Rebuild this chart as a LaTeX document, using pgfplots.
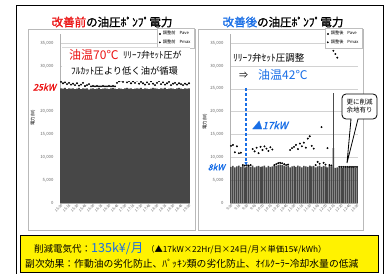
\documentclass[border=0pt]{standalone}
\usepackage{fontspec}
\setmainfont{Noto Sans CJK JP}
\newfontfamily\cjkbold[FakeBold=1.4]{Noto Sans CJK JP}
\newfontfamily\cjkit[FakeSlant=0.25,FakeBold=1.5]{Noto Sans CJK JP}
\usepackage{pgfplots}
\pgfplotsset{compat=1.18}
\usepackage{pgfplotstable}
\usetikzlibrary{arrows.meta}
\definecolor{myred}{RGB}{235,20,20}
\definecolor{myblue}{RGB}{25,110,230}

\pgfplotstableread{
x ave max
0 25100 26500
1 25000 26200
2 25200 26400
3 24900 26000
4 25100 26300
5 25000 25900
6 25100 26100
7 24900 25800
8 25000 26200
9 25200 25700
10 24900 25900
11 25100 26300
12 25000 25600
13 25100 25800
14 24800 26000
15 25000 25500
16 25100 25600
17 24900 25500
18 25000 25600
19 25200 25500
20 24900 25500
21 25000 25600
22 25100 25500
23 25000 25500
24 24900 25600
25 25100 25500
26 25200 25600
27 25000 25500
28 24900 26300
29 25100 26600
30 25000 26800
31 24900 26500
32 25100 26900
33 25200 26400
34 25000 26700
35 25100 26200
36 24900 26600
37 25000 26300
38 25100 26800
39 25000 26100
40 25200 26500
41 24900 26200
42 25100 25900
43 25000 26400
44 24900 26000
45 25000 26600
46 25200 26100
47 25100 25800
48 25000 26300
49 24900 26700
50 25100 26000
51 25000 26400
52 25200 25900
53 24900 26200
54 25000 26500
55 25100 25800
56 25000 26100
57 24900 26300
58 25100 25900
59 25200 26200
60 25000 26000
61 24900 25800
62 25100 26100
63 25000 25900
64 25100 26200
}\leftdata

\pgfplotstableread{
x ave max
0 7900 12500
1 8100 12700
2 7800 11100
3 8000 12400
4 8200 10900
5 7900 11000
6 8100 8300
7 7800 8200
8 8000 8300
9 8100 8200
10 7900 8300
11 8200 11800
12 7800 11300
13 8000 12100
14 8100 10900
15 7900 12300
16 8000 11600
17 8200 12400
18 7800 11900
19 8100 11400
20 7900 12200
21 8000 11700
22 8100 8300
23 8200 8500
24 8300 8700
25 8400 8800
26 8300 8700
27 8200 8500
28 8000 8300
29 8200 8400
30 7800 11600
31 8000 12000
32 8100 12300
33 7900 12700
34 8200 11800
35 8000 13000
36 7800 12400
37 8100 13200
38 8000 12100
39 7900 14100
40 8200 14600
41 8000 12500
42 8100 11900
43 7800 8300
44 8000 9000
45 8200 8600
46 7900 16600
47 8100 8800
48 8000 8400
49 7800 12000
50 8100 8300
51 8000 8200
52 12000 33300
53 7700 32600
54 7800 31800
55 7700 7900
56 7800 7900
57 7700 7900
58 7800 7900
59 7700 7900
60 7800 7900
61 7700 7900
62 7800 7900
63 7700 7900
64 7800 7900
}\rightdata

\pgfplotsset{myax/.style={
  scale only axis, width=130pt, height=169.1pt,
  xmin=-0.5, xmax=64.5, ymin=0, ymax=37000,
  axis x line*=bottom, axis y line*=left,
  axis line style={gray!60, line width=0.4pt},
  ytick={0,5000,10000,15000,20000,25000,30000,35000}, ymajorgrids,
  scaled y ticks=false,
  grid style={gray!35, line width=0.4pt},
  major tick length=0pt,
  xtick={0,4,...,64},
  yticklabel style={font=\fontsize{4.3}{5}\selectfont, text=black!60, xshift=-3pt},
  xticklabel style={font=\fontsize{3.6}{4}\selectfont, text=black!65, rotate=45, anchor=north east, inner sep=0.6pt},
  /pgf/number format/1000 sep={,},
  /pgf/number format/assume math mode=true,
  legend style={at={(1.03,1.035)}, anchor=north east, font=\fontsize{4.2}{5}\selectfont,
    draw=gray!50, line width=0.3pt, inner sep=1.2pt, row sep=-0.5pt, fill=white},
  legend cell align=left,
}}

\begin{document}
\begin{tikzpicture}
\useasboundingbox (0pt,0pt) rectangle (387pt,273pt);
\begin{scope}[x=1pt,y=1pt]
% outer frame
\draw[line width=1.2pt] (16.5,-5) -- (16.5,267.5) -- (383.5,267.5) -- (383.5,-5);
% panels
\draw[gray!55, line width=0.6pt] (28,43) rectangle (195,244);
\draw[gray!55, line width=0.6pt] (198,43) rectangle (363,244);
% titles
\node[font=\cjkbold\fontsize{11.5}{11.5}\selectfont] at (112,251) {\textcolor{myred}{改善前}の油圧ﾎﾟﾝﾌﾟ電力};
\node[font=\cjkbold\fontsize{11.5}{11.5}\selectfont] at (283,251) {\textcolor{myblue}{改善後}の油圧ﾎﾟﾝﾌﾟ電力};
\end{scope}

% left axis
\begin{axis}[myax, at={(60pt,70pt)}, anchor=south west,
  yticklabels={0,{5,000},{10,000},{15,000},{20,000},{},{30,000},{35,000}},
  xticklabels={15:00,15:15,15:30,15:45,16:00,16:15,16:30,16:45,17:00,17:15,17:30,17:45,18:00,18:15,18:30,18:45,19:00}]
\addplot[ybar, bar width=0.76, fill=black!72, draw=none,
  legend image code/.code={\fill[black!72] (0pt,-1.1pt) rectangle (2.2pt,1.1pt);}]
  table[x=x,y=ave]{\leftdata};
\addlegendentry{調整前\hspace{4pt}Pave}
\addplot[only marks, mark=*, mark size=0.75pt, black,
  legend image code/.code={\fill (1.1pt,0pt) circle (0.7pt);}]
  table[x=x,y=max]{\leftdata};
\addlegendentry{調整前\hspace{4pt}Pmax}
\end{axis}

% right axis
\begin{axis}[myax, at={(230pt,70pt)}, anchor=south west, width=128pt,
  xticklabels={9:00,9:15,9:30,9:45,10:00,10:15,10:30,10:45,11:00,11:15,11:30,11:45,12:00,12:15,12:30,12:45,13:00}]
\addplot[ybar, bar width=0.76, fill=black!72, draw=none,
  legend image code/.code={\fill[black!72] (0pt,-1.1pt) rectangle (2.2pt,1.1pt);}]
  table[x=x,y=ave]{\rightdata};
\addlegendentry{調整後\hspace{4pt}Pave}
\addplot[only marks, mark=*, mark size=0.75pt, black,
  legend image code/.code={\fill (1.1pt,0pt) circle (0.7pt);}]
  table[x=x,y=max]{\rightdata};
\addlegendentry{調整後\hspace{4pt}Pmax}
\addplot[black!70, line width=0.8pt, forget plot] coordinates {(52,12000) (52,24000)};
\end{axis}

\begin{scope}[x=1pt,y=1pt]
% y labels
\node[rotate=90, font=\fontsize{4.5}{5}\selectfont] at (33,155) {電力(W)};
\node[rotate=90, font=\fontsize{4.5}{5}\selectfont] at (205,151) {電力(W)};

% left annotation
\fill[white] (62,226) rectangle (190,192);
\draw[gray!30, line width=0.4pt] (62,226) -- (190,226);
\node[anchor=west, font=\fontsize{12}{12}\selectfont, text=myred, inner sep=0pt] at (69,218) {油温70℃};
\node[anchor=west, font=\fontsize{9}{9}\selectfont, inner sep=0pt] at (123,218) {ﾘﾘｰﾌ弁ｾｯﾄ圧が};
\node[anchor=west, font=\fontsize{9.3}{9}\selectfont, inner sep=0pt] at (71,202) {ﾌﾙｶｯﾄ圧より低く油が循環};
\node[anchor=east, font=\cjkit\fontsize{9}{9}\selectfont, text=myred, inner sep=0pt] at (56,186) {25kW};

% right annotation
\node[anchor=west, font=\fontsize{9.5}{9}\selectfont, inner sep=0pt] at (233,215) {ﾘﾘｰﾌ弁ｾｯﾄ圧調整};
\node[anchor=west, font=\fontsize{9}{9}\selectfont, inner sep=0pt] at (239,198) {⇒};
\node[anchor=west, font=\fontsize{12}{12}\selectfont, text=myblue, inner sep=0pt] at (258,198) {油温42℃};
\draw[myblue, line width=1.3pt, dash pattern=on 3pt off 2pt, -{Latex[length=4pt,width=3.5pt]}] (246,185) -- (246,107);
\node[anchor=west, font=\cjkit\fontsize{10}{10}\selectfont, text=myblue, inner sep=0pt] at (252,148) {▲17kW};
\node[anchor=east, font=\cjkit\fontsize{8.5}{9}\selectfont, text=myblue, inner sep=0pt] at (225,106) {8kW};

% bubble
\draw[line width=0.8pt, fill=white] (351,154) [rounded corners=4pt] -- (342,154) -- (342,179) -- (377,179) -- (377,154) [sharp corners] -- (358,154) -- (347,110) -- cycle;
\node[align=center, font=\fontsize{6.5}{8}\selectfont, inner sep=0pt] at (359.5,166.5) {更に削減\\余地有り};

% yellow box
\draw[line width=0.8pt, fill=yellow] (20,38) rectangle (378,1);
\node[anchor=west, inner sep=0pt] at (34,24) {{\fontsize{9.5}{10}\selectfont 削減電気代：}{\color{myblue}\fontsize{12.5}{13}\selectfont 135k¥/月}\hspace{3pt}{\fontsize{8.3}{9}\selectfont （▲17kW×22Hr/日×24日/月×単価15¥/kWh）}};
\node[anchor=west, inner sep=0pt] at (25,9) {\fontsize{9.8}{10}\selectfont 副次効果：作動油の劣化防止、ﾊﾟｯｷﾝ類の劣化防止、ｵｲﾙｸｰﾗｰ冷却水量の低減};
\end{scope}
\end{tikzpicture}
\end{document}
